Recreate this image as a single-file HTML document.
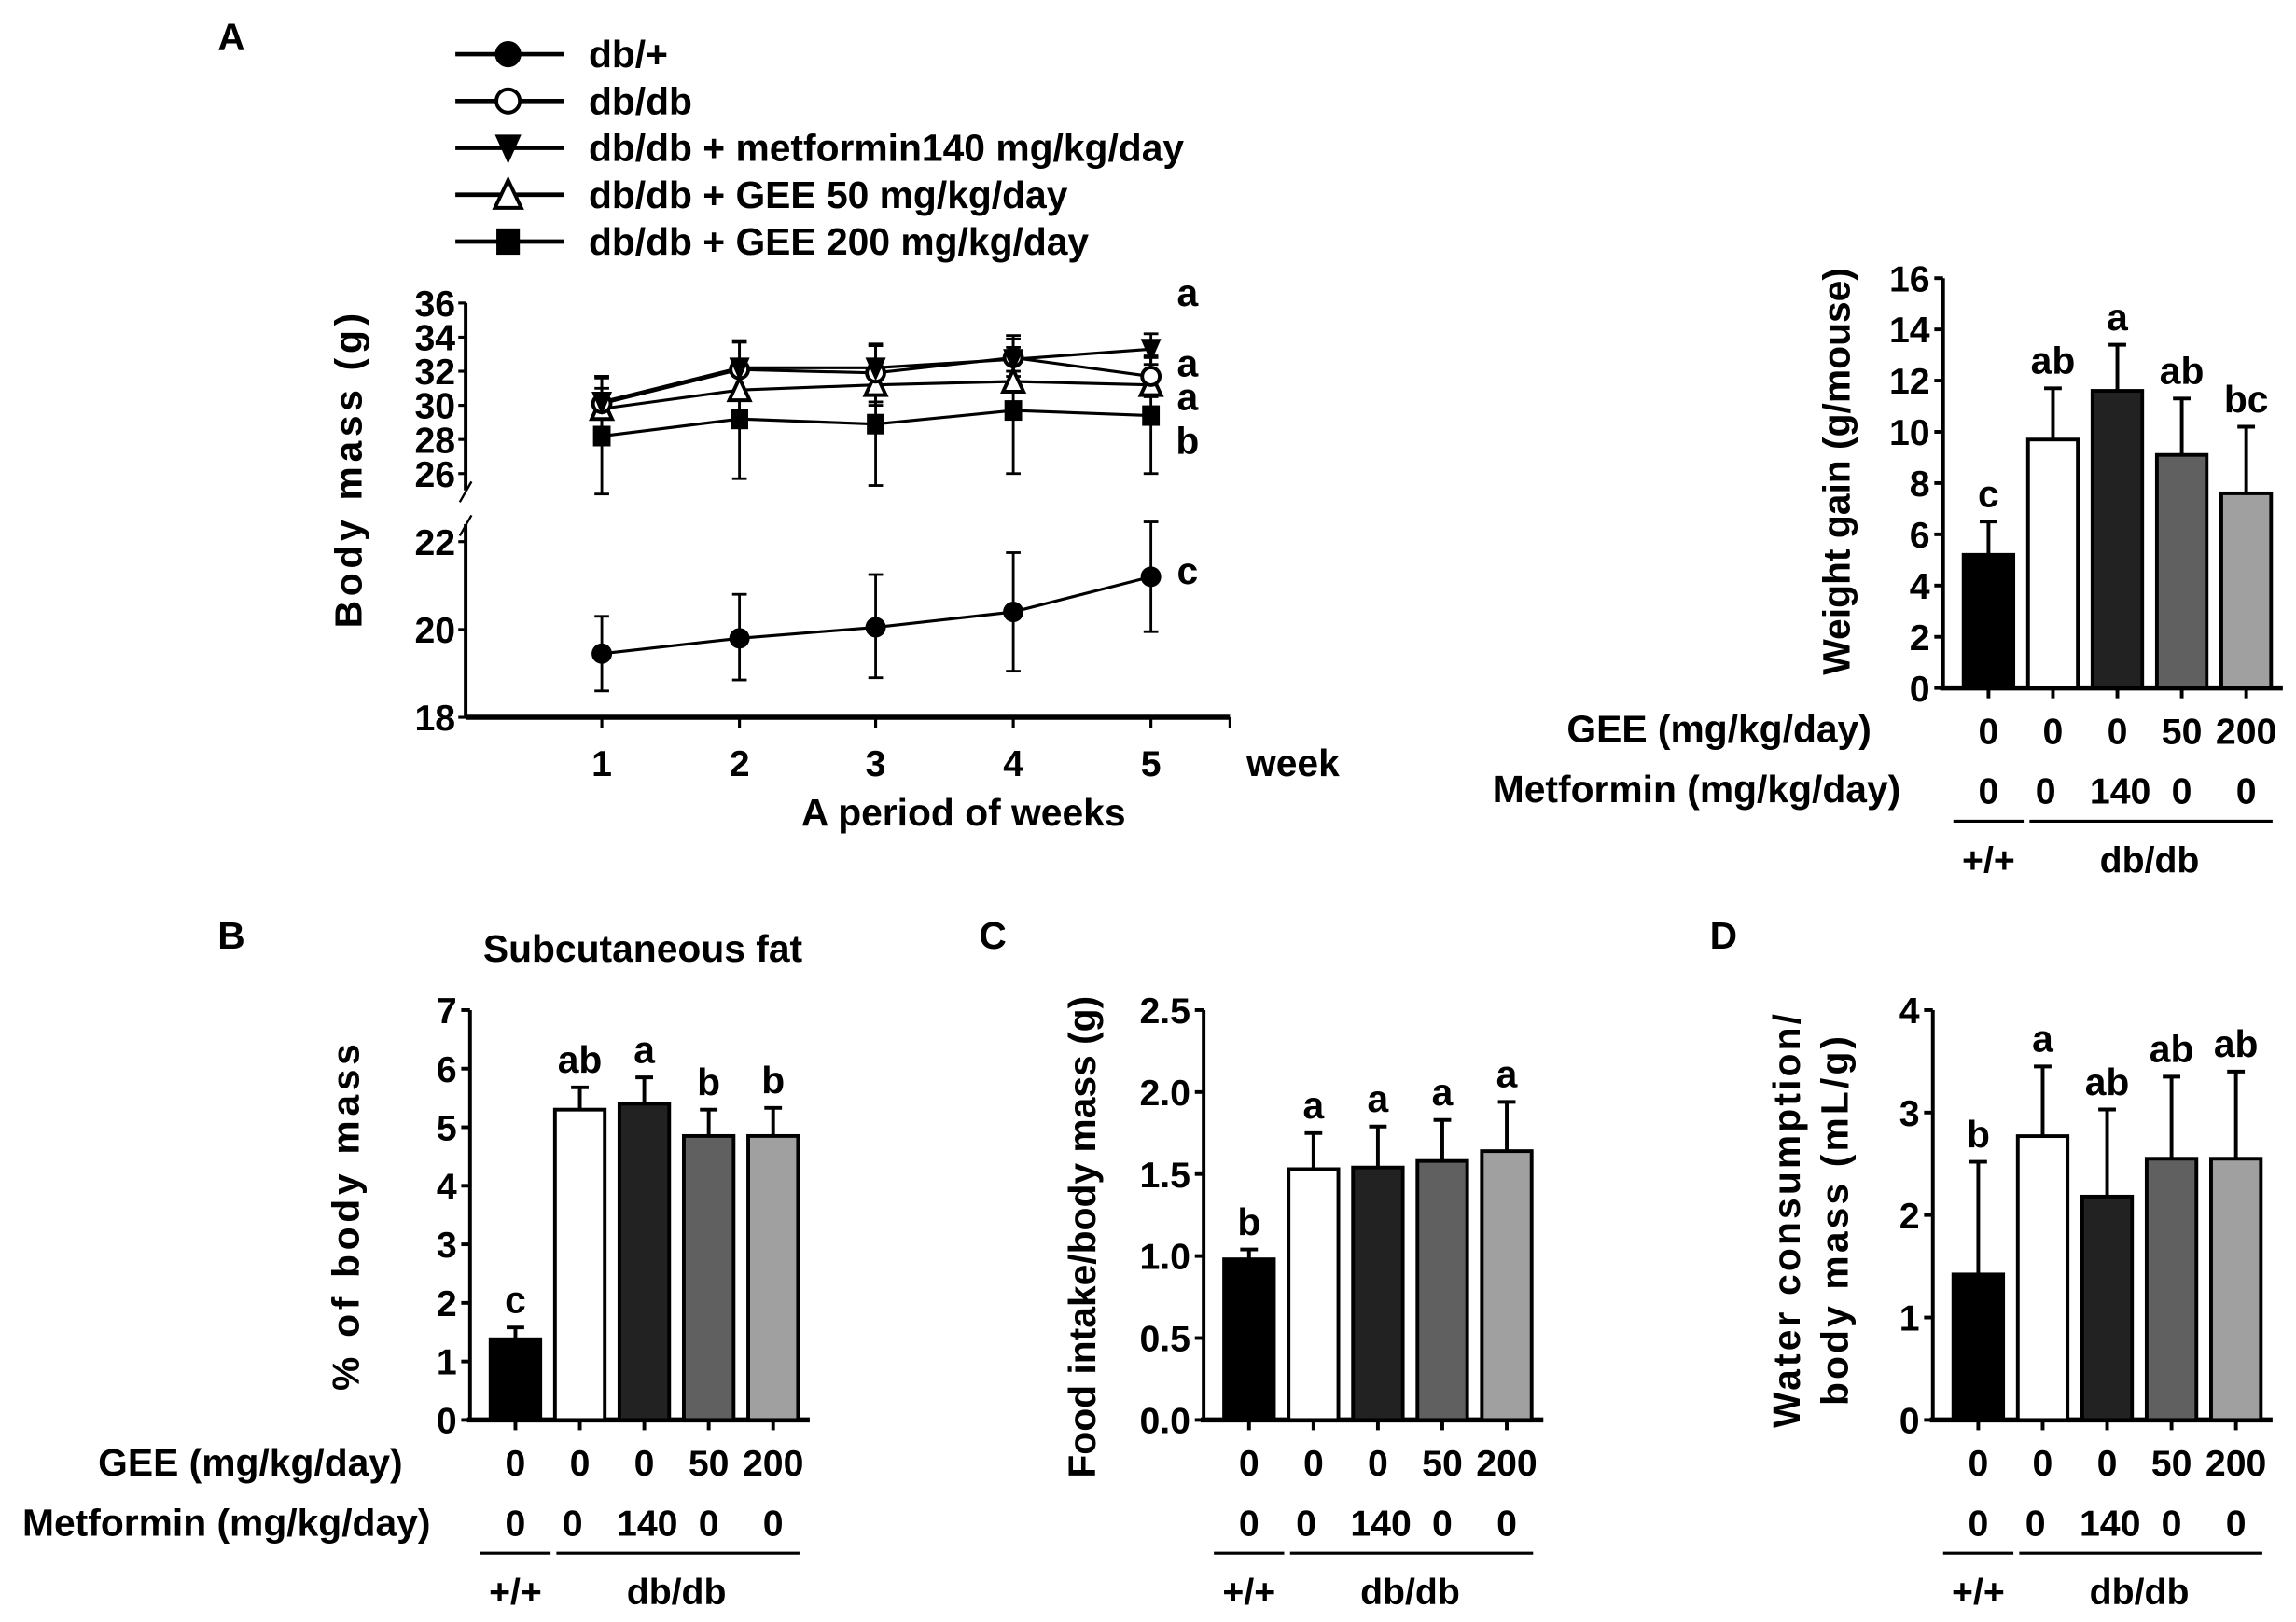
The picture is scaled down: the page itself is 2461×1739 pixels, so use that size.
<!DOCTYPE html>
<html><head><meta charset="utf-8">
<style>
html,body{margin:0;padding:0;background:#fff;}
svg{display:block;}
text{font-family:"Liberation Sans",Arial,sans-serif;font-weight:bold;fill:#000;}
</style></head>
<body>
<svg id="s" xmlns="http://www.w3.org/2000/svg" width="2461" height="1739" viewBox="0 0 1568 1108" preserveAspectRatio="none"></svg>
<script>
var o=[];
function L(x1,y1,x2,y2,w){o.push('<line x1="'+x1+'" y1="'+y1+'" x2="'+x2+'" y2="'+y2+'" stroke="#000" stroke-width="'+(w||2)+'"/>');}
function T(x,y,s,sz,anc,extra){o.push('<text x="'+x+'" y="'+y+'" font-size="'+(sz||22)+'" text-anchor="'+(anc||'middle')+'" '+(extra||'')+'>'+s+'</text>');}
function M(type,x,y,r){r=r||7;
 if(type=='fc')o.push('<circle cx="'+x+'" cy="'+y+'" r="'+r+'" fill="#000"/>');
 if(type=='oc')o.push('<circle cx="'+x+'" cy="'+y+'" r="'+(r-1)+'" fill="#fff" stroke="#000" stroke-width="2.5"/>');
 if(type=='dt')o.push('<polygon points="'+(x-r)+','+(y-r)+' '+(x+r)+','+(y-r)+' '+x+','+(y+r+2)+'" fill="#000"/>');
 if(type=='ut')o.push('<polygon points="'+(x-r)+','+(y+r)+' '+(x+r)+','+(y+r)+' '+x+','+(y-r-1)+'" fill="#fff" stroke="#000" stroke-width="2.5"/>');
 if(type=='sq')o.push('<rect x="'+(x-r+1)+'" y="'+(y-r)+'" width="'+(2*r-2)+'" height="'+(2*r)+'" fill="#000"/>');
}
var FS=26, TS=25;
// Panel A
T(158,34,'A',26);
var leg=[['fc','db/+'],['oc','db/db'],['dt','db/db + metformin140 mg/kg/day'],['ut','db/db + GEE 50 mg/kg/day'],['sq','db/db + GEE 200 mg/kg/day']];
leg.forEach(function(l,i){var y=37+i*32;L(311,y,385,y,3);M(l[0],347,y,9);T(402,y+9,l[1],FS,'start');});
var ax=318;
L(ax,207,ax,335,2.5);L(ax,358,ax,490,2.5);
L(314,343,322,329,1.5);L(314,366,322,352,1.5);
L(ax,490,840,490,3.5);
[36,34,32,30,28,26].forEach(function(v){var y=207+(36-v)*11.65;L(ax-5,y,ax,y,2);T(ax-7,y+9,v,TS,'end');});
[22,20,18].forEach(function(v){var y=430-(v-20)*30;L(ax-5,y,ax,y,2);T(ax-7,y+9,v,TS,'end');});
T(247,320,'Body mass (g)',FS,'middle','letter-spacing="3" transform="rotate(-90 247 320)"');
var wx=[411,505,598,692,786];
wx.forEach(function(x,i){L(x,490,x,497,2);T(x,530,i+1,TS);});
L(840,490,840,497,2);
T(883,530,'week',FS);T(658,564,'A period of weeks',FS);
function uy(v){return 207+(36-v)*11.65;}
function ly(v){return 430-(v-20)*30;}
var ser=[
 ['sq',[28.2,29.2,28.9,29.7,29.4],[3.4,3.5,3.6,3.7,3.4]],
 ['ut',[29.8,30.9,31.2,31.4,31.2],[1.2,1.3,1.2,0.6,0.6]],
 ['oc',[30.1,32.1,31.9,32.8,31.7],[1.6,1.6,1.7,1.1,1.2]],
 ['dt',[30.2,32.2,32.2,32.7,33.3],[1.5,1.6,1.3,1.4,0.9]]];
ser.forEach(function(s){
 var p=s[1].map(function(v,i){return wx[i]+','+uy(v);}).join(' ');
 o.push('<polyline points="'+p+'" fill="none" stroke="#000" stroke-width="2"/>');
 s[1].forEach(function(v,i){var e=s[2][i];L(wx[i],uy(v-e),wx[i],uy(v+e),1.8);L(wx[i]-5,uy(v+e),wx[i]+5,uy(v+e),1.8);L(wx[i]-5,uy(v-e),wx[i]+5,uy(v-e),1.8);});
});
ser.forEach(function(s){s[1].forEach(function(v,i){M(s[0],wx[i],uy(v),7);});});
var lv=[19.45,19.8,20.05,20.4,21.2],lo=[18.6,18.85,18.9,19.05,19.95],hi=[20.3,20.8,21.25,21.75,22.45];
o.push('<polyline points="'+lv.map(function(v,i){return wx[i]+','+ly(v);}).join(' ')+'" fill="none" stroke="#000" stroke-width="2"/>');
lv.forEach(function(v,i){L(wx[i],ly(lo[i]),wx[i],ly(hi[i]),1.8);L(wx[i]-5,ly(lo[i]),wx[i]+5,ly(lo[i]),1.8);L(wx[i]-5,ly(hi[i]),wx[i]+5,ly(hi[i]),1.8);M('fc',wx[i],ly(v),7);});
T(811,209,'a',FS);T(811,257,'a',FS);T(811,280,'a',FS);T(811,310,'b',FS);T(811,399,'c',FS);

var cols=['#000','#fff','#222','#606060','#a0a0a0'];
function bars(ax,y0,ytop,vmax,ticks,fmt,vals,errs,lets,ylab){
 var k=(y0-ytop)/vmax;
 L(ax,ytop,ax,y0,2.5);L(ax-2,y0,ax+232,y0,3.5);
 ticks.forEach(function(v){var y=y0-v*k;L(ax-6,y,ax,y,2.5);T(ax-9,y+9,fmt(v),TS,'end');});
 var cx=[];
 for(var i=0;i<5;i++){var c=ax+31+i*44;cx.push(c);
  var h=vals[i]*k, e=errs[i]*k;
  L(c,y0-h,c,y0-h-e,2.5);L(c-6,y0-h-e,c+6,y0-h-e,2.5);
  o.push('<rect x="'+(c-17)+'" y="'+(y0-h)+'" width="34" height="'+h+'" fill="'+cols[i]+'" stroke="#000" stroke-width="2.5"/>');
  L(c,y0,c,y0+7,2.5);
  T(c,y0-h-e-10,lets[i],FS);
 }
 var r1=y0+38,r2=y0+79;
 ['0','0','0','50','200'].forEach(function(s,i){T(cx[i],r1,s,TS);});
 ['0','0','140','0','0'].forEach(function(s,i){T(cx[i]+(i==1?-5:0)+(i==2?2:0),r2,s,TS);});
 L(cx[0]-24,r2+12,cx[0]+24,r2+12,2);L(cx[1]-16,r2+12,cx[4]+18,r2+12,2);
 T(cx[0],r2+47,'+/+',TS);T((cx[1]+cx[4])/2,r2+47,'db/db',TS);
 ylab();
}
function f0(v){return ''+v;}
function f1(v){return v.toFixed(1);}
bars(1327,470,190,16,[0,2,4,6,8,10,12,14,16],f0,[5.2,9.7,11.6,9.1,7.6],[1.3,2.0,1.8,2.2,2.6],['c','ab','a','ab','bc'],
 function(){T(1263,322,'Weight gain (g/mouse)',FS,'middle','transform="rotate(-90 1263 322)"');});
T(1278,507,'GEE (mg/kg/day)',FS,'end');T(1298,548,'Metformin (mg/kg/day)',FS,'end');
T(158,648,'B',26);T(439,657,'Subcutaneous fat',FS);
bars(321,970,690,7,[0,1,2,3,4,5,6,7],f0,[1.38,5.3,5.4,4.85,4.85],[0.2,0.38,0.45,0.45,0.48],['c','ab','a','b','b'],
 function(){T(245,830,'% of body mass',FS,'middle','letter-spacing="3" transform="rotate(-90 245 830)"');});
T(275,1008,'GEE (mg/kg/day)',FS,'end');T(294,1049,'Metformin (mg/kg/day)',FS,'end');
T(678,648,'C',26);
bars(822,970,690,2.5,[0,0.5,1,1.5,2,2.5],f1,[0.98,1.53,1.54,1.58,1.64],[0.06,0.22,0.25,0.25,0.3],['b','a','a','a','a'],
 function(){T(748,845,'Food intake/body mass (g)',FS,'middle','transform="rotate(-90 748 845)"');});
T(1177,648,'D',26);
bars(1320,970,690,4,[0,1,2,3,4],f0,[1.42,2.77,2.18,2.55,2.55],[1.1,0.68,0.85,0.8,0.85],['b','a','ab','ab','ab'],
 function(){T(1229,833,'Water consumption/',FS,'middle','letter-spacing="2" transform="rotate(-90 1229 833)"');T(1262,833,'body mass (mL/g)',FS,'middle','letter-spacing="2" transform="rotate(-90 1262 833)"');});
document.getElementById('s').innerHTML=o.join('');
</script>
</body></html>
